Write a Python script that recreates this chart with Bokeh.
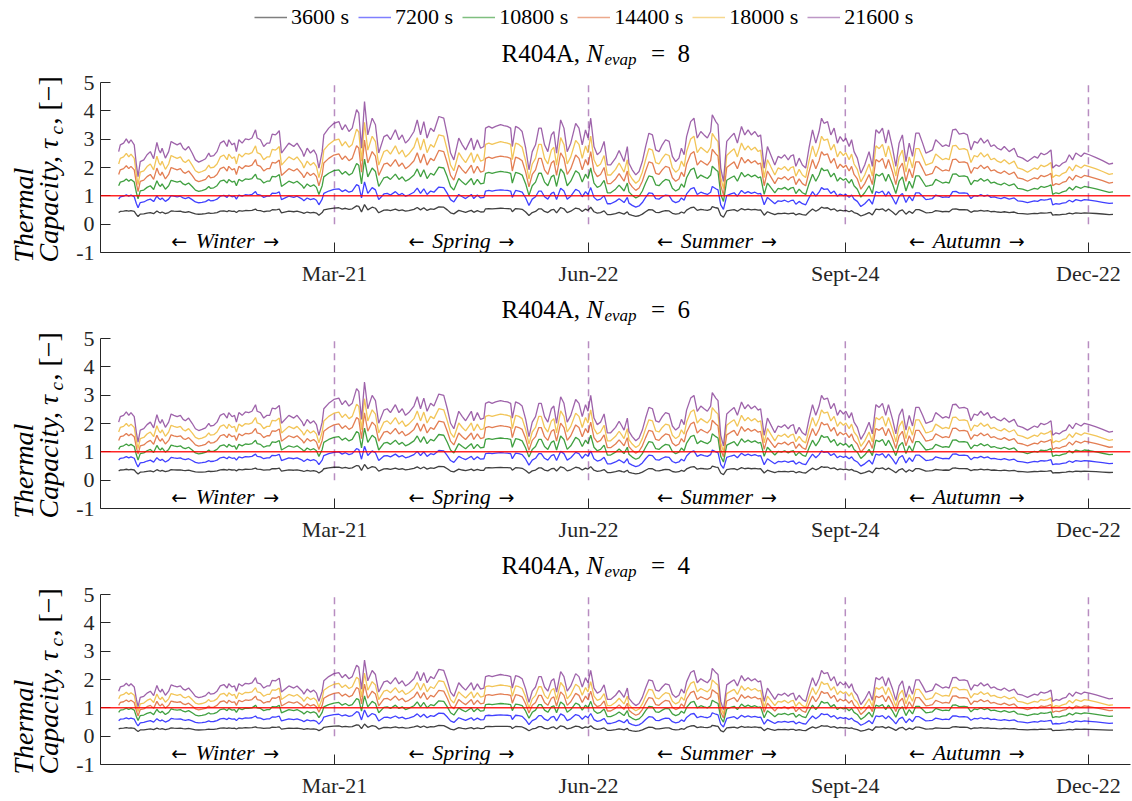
import numpy as np
from bokeh.plotting import figure
from bokeh.models import FixedTicker, Span, Label, Legend, LegendItem, Range1d
from bokeh.layouts import column, row
from bokeh.core.properties import value
from bokeh.embed import file_html
from bokeh.resources import INLINE

FONT = "Liberation Serif"
TXT = "#262626"

# ---------------- data ----------------
durations = ["3600 s", "7200 s", "10800 s", "14400 s", "18000 s", "21600 s"]
colors = ["#000000", "#0000FF", "#008000", "#D95319", "#EDB120", "#7E2F8E"]
# level of each duration line relative to the 21600 s line
series_ratio = [0.16, 0.345, 0.53, 0.685, 0.83, 1.0]
panel_n = [8, 6, 4]
# level of each panel relative to the N_evap = 8 panel
panel_scale = [1.0, 0.80, 0.62]

season_names = ["Winter", "Spring", "Summer", "Autumn"]
season_edges = [0, 80, 173, 267, 356]
tick_days = [80, 173, 267, 356]
tick_labels = ["Mar-21", "Jun-22", "Sept-24", "Dec-22"]

# day of year and thermal capacity of the 21600 s line, N_evap = 8
day = [1.0, 1.6, 2.8, 3.8, 4.7, 5.5, 6.7, 7.5, 8.1, 8.9, 10.2, 11.4, 12.6, 13.8, 15.0,
       15.7, 16.3, 16.9, 18.1, 19.3, 20.2, 21.2, 22.4, 23.6, 24.6, 25.4, 26.6, 27.9, 29.1,
       30.3, 31.5, 32.8, 34.0, 34.6, 35.8, 37.0, 38.2, 39.5, 40.7, 41.3, 42.5, 43.4, 44.1,
       45.0, 46.2, 47.4, 48.6, 49.8, 51.1, 51.7, 52.9, 54.1, 55.3, 56.3, 57.2, 58.4, 59.0,
       59.8, 60.6, 63.3, 65.1, 66.3, 68.2, 68.8, 70.0, 71.2, 72.4, 73.4, 74.3, 75.5, 76.1,
       77.9, 79.8, 81.6, 82.8, 84.0, 85.3, 86.5, 88.1, 88.9, 89.9, 91.0, 92.2, 93.8, 95.0,
       96.2, 98.1, 99.3, 100.5, 102.3, 103.6, 104.8, 106.0, 107.2, 109.1, 110.3, 111.5,
       112.7, 113.9, 115.2, 116.4, 118.2, 120.0, 121.3, 122.5, 123.7, 125.5, 126.8, 128.0,
       129.2, 130.1, 131.0, 132.3, 133.5, 134.7, 135.3, 136.5, 137.7, 139.0, 140.8, 142.0,
       143.3, 144.5, 145.1, 146.3, 147.5, 148.7, 150.0, 151.2, 152.4, 153.6, 154.8, 155.7,
       156.9, 158.1, 159.4, 160.3, 161.3, 162.8, 164.0, 165.2, 166.5, 168.3, 169.5, 170.7,
       171.9, 172.8, 173.8, 175.0, 176.2, 177.4, 178.7, 179.9, 181.1, 182.9, 184.2, 185.2,
       186.0, 187.2, 187.8, 189.0, 190.3, 191.5, 192.7, 193.9, 195.1, 196.4, 197.6, 198.8,
       200.0, 201.2, 202.5, 203.7, 204.9, 206.1, 207.0, 208.0, 208.9, 210.4, 211.6, 212.8,
       214.1, 215.3, 216.5, 217.7, 218.3, 219.6, 220.4, 221.4, 222.4, 223.6, 225.1, 226.3,
       227.5, 229.0, 230.2, 231.4, 232.6, 233.9, 235.1, 236.0, 237.3, 238.5, 239.7, 241.2,
       242.4, 243.6, 244.8, 246.1, 247.0, 248.0, 248.9, 250.1, 251.3, 252.5, 253.7, 255.0,
       256.2, 257.4, 258.3, 259.2, 260.5, 261.7, 262.9, 264.1, 265.1, 266.3, 267.2, 268.4,
       269.3, 270.2, 271.4, 272.7, 274.1, 275.7, 276.9, 278.2, 279.4, 280.6, 281.8, 282.8,
       284.3, 285.5, 286.7, 287.9, 289.2, 290.4, 291.6, 292.8, 294.0, 295.3, 296.5, 297.7,
       298.9, 300.1, 301.4, 302.6, 303.8, 305.0, 306.3, 307.5, 308.7, 310.5, 311.7, 313.0,
       314.2, 315.4, 316.6, 317.8, 319.1, 320.3, 321.5, 322.7, 324.0, 325.2, 327.0, 328.8,
       330.1, 331.9, 333.7, 336.2, 337.4, 338.6, 339.8, 341.0, 342.3, 342.9, 344.1, 345.3,
       346.5, 347.8, 349.0, 350.2, 351.4, 353.3, 354.5, 356.3, 358.8, 361.2, 363.6, 365.0]
tau_21600_n8 = [2.56, 2.80, 2.86, 3.01, 2.86, 2.98, 2.80, 2.09, 1.68, 2.21, 2.27, 2.45, 2.56,
                2.31, 2.89, 2.62, 2.51, 2.68, 2.33, 2.56, 2.92, 2.86, 2.80, 2.86, 2.68, 2.62,
                2.74, 2.51, 2.27, 2.19, 2.24, 2.31, 2.51, 2.39, 2.42, 2.56, 2.86, 2.94, 2.74,
                2.98, 2.80, 2.86, 2.56, 2.98, 2.86, 3.01, 2.98, 3.04, 3.33, 3.04, 2.98, 2.74,
                2.86, 2.86, 3.18, 3.15, 3.21, 3.30, 2.51, 2.86, 2.74, 2.86, 2.56, 2.39, 2.68,
                2.51, 2.62, 2.45, 1.98, 2.56, 3.15, 3.39, 3.56, 3.62, 3.33, 3.51, 3.27, 3.39,
                4.04, 3.92, 2.68, 4.33, 3.15, 3.74, 3.51, 2.51, 3.09, 3.15, 2.98, 3.33, 2.98,
                3.15, 2.86, 2.98, 3.27, 3.68, 3.15, 3.62, 3.04, 3.39, 3.27, 3.80, 3.74, 3.15,
                2.51, 2.27, 3.04, 2.80, 2.62, 2.86, 3.04, 2.62, 2.98, 2.68, 2.74, 3.39, 3.45,
                3.39, 3.45, 3.51, 3.48, 3.45, 3.39, 2.74, 3.45, 3.39, 3.27, 2.68, 1.92, 2.56,
                2.80, 3.39, 3.39, 2.80, 2.56, 3.15, 3.27, 2.51, 3.68, 3.39, 2.56, 2.86, 3.56,
                3.39, 2.80, 3.33, 3.04, 3.74, 2.74, 2.45, 2.56, 2.92, 2.09, 2.09, 2.33, 2.60,
                2.39, 2.21, 2.74, 2.15, 1.92, 1.74, 1.86, 2.21, 2.74, 3.21, 3.15, 2.62, 2.56,
                2.80, 2.98, 2.92, 2.39, 2.21, 2.33, 2.68, 2.45, 3.09, 3.62, 3.74, 3.04, 3.27,
                3.15, 3.04, 3.27, 3.86, 3.62, 3.51, 1.98, 1.51, 2.92, 3.09, 3.21, 2.86, 3.45,
                3.15, 3.33, 3.15, 3.27, 3.09, 3.15, 1.98, 2.74, 2.45, 2.09, 2.39, 2.33, 2.45,
                2.27, 2.40, 2.45, 2.04, 2.33, 2.09, 1.98, 2.68, 3.33, 2.86, 3.27, 3.74, 3.56,
                3.62, 3.15, 3.39, 2.86, 3.09, 2.92, 3.04, 2.74, 2.98, 2.56, 2.33, 1.80, 2.09,
                2.56, 2.04, 3.33, 3.21, 3.39, 2.86, 3.33, 2.68, 2.04, 2.86, 3.15, 2.21, 2.86,
                2.39, 3.21, 3.21, 2.86, 2.51, 2.56, 2.62, 2.98, 2.86, 2.74, 2.80, 2.74, 3.33,
                3.35, 3.18, 3.21, 3.15, 2.62, 2.92, 2.86, 3.04, 2.86, 2.98, 2.74, 2.80, 2.68,
                2.62, 2.74, 2.56, 2.68, 2.39, 2.33, 2.21, 2.39, 2.33, 2.51, 2.45, 2.51, 2.62,
                1.98, 2.09, 2.04, 2.15, 2.21, 2.45, 2.27, 2.51, 2.39, 2.51, 2.45, 2.35, 2.24,
                2.12, 2.15]

# ---------------- layout (page has no margin: canvas starts at 0,0) ----------------
TOTAL_H = 800
YLAB_W = 72
RIGHT_W = 1132 - YLAB_W
MAIN_LEFT = 28
H = 170
TOP = 13
bottoms = [38, 38, 36]
title_heights = [69, 35, 35]
x_range = Range1d(-5.65, 371.4)
MID = 0.33  # distance (em) from the alphabetic baseline up to the text middle

season_mid = [(season_edges[i] + season_edges[i + 1]) / 2 for i in range(4)]
# half-widths (px) of the season words in 22px italic serif, for arrow placement
season_half = [31, 30, 37, 35]


def blank(w, h):
    f = figure(width=w, height=h, x_range=Range1d(0, w), y_range=Range1d(0, h),
               output_backend="svg", toolbar_location=None, min_border=0,
               x_axis_location=None, y_axis_location=None)
    f.outline_line_color = None
    f.grid.visible = False
    return f


def lab(f, x, y, text, size, italic=False, angle=0.0):
    """x, y: start of the text on its baseline (screen px from frame bottom-left)."""
    s = float(size.replace("px", ""))
    if angle:
        x = x - MID * s
    else:
        y = y + MID * s
    f.add_layout(Label(x=x, y=y, x_units="screen", y_units="screen", text=text,
                       angle=angle, text_font=FONT, text_font_size=size,
                       text_font_style="italic" if italic else "normal",
                       text_color="#000000", text_align="left",
                       text_baseline="middle"))


right_blocks = []
frame_bottoms = []
cursor = 0
for i in range(3):
    # ---- title strip (legend too for the first panel); frame aligned at x=100 ----
    tf = blank(RIGHT_W, title_heights[i])
    tx, ty = 401, 8
    lab(tf, tx, ty, "R404A, ", "25px")
    lab(tf, tx + 85, ty, "N", "25px", italic=True)
    lab(tf, tx + 103, ty - 4, "evap", "17px", italic=True)
    lab(tf, tx + 137, ty, "\u2002=\u2002" + str(panel_n[i]), "25px")
    if i == 0:
        items = []
        for k in range(6):
            r = tf.line(x=[-100, -90], y=[-100, -100], line_color=colors[k],
                        line_alpha=0.5, line_width=1.6)
            items.append(LegendItem(label=durations[k], renderers=[r]))
        lg = Legend(items=items, orientation="horizontal", location=(154, 39),
                    label_text_font=FONT, label_text_font_size="22px",
                    label_text_color="#000000", glyph_width=33, glyph_height=20,
                    label_height=22, label_standoff=4, spacing=9, padding=2, margin=0,
                    border_line_color=None, background_fill_alpha=0)
        tf.add_layout(lg)
    right_blocks.append(tf)
    cursor += title_heights[i]

    # ---- main panel ----
    fh = TOP + H + bottoms[i]
    p = figure(width=RIGHT_W, height=fh, x_range=x_range, y_range=Range1d(-1, 5),
               output_backend="svg", toolbar_location=None,
               min_border_left=MAIN_LEFT, min_border_right=2,
               min_border_top=TOP, min_border_bottom=bottoms[i])
    p.outline_line_color = None
    p.grid.visible = False

    p.xaxis.ticker = FixedTicker(ticks=tick_days)
    p.xaxis.major_label_overrides = {d: l for d, l in zip(tick_days, tick_labels)}
    p.yaxis.ticker = FixedTicker(ticks=[-1, 0, 1, 2, 3, 4, 5])
    p.yaxis.major_label_overrides = {-1: "-1"}
    for ax in (p.xaxis[0], p.yaxis[0]):
        ax.major_tick_in = 10
        ax.major_tick_out = 0
        ax.minor_tick_line_color = None
        ax.axis_line_color = TXT
        ax.major_tick_line_color = TXT
        ax.major_label_text_font = FONT
        ax.major_label_text_font_size = "22px"
        ax.major_label_text_color = TXT
    p.xaxis.major_label_standoff = 8
    p.yaxis.major_label_standoff = 6

    p.segment(x0=tick_days, y0=[0] * 4, x1=tick_days, y1=[5] * 4,
              line_color="#7E2F8E", line_alpha=0.55, line_width=1.5, line_dash="7 5")

    base = np.array(tau_21600_n8) * panel_scale[i]
    for k in range(6):
        p.line(day, base * series_ratio[k], line_color=colors[k], line_width=1.3,
               line_alpha=0.75)

    p.add_layout(Span(location=1, dimension="width", line_color="#FF0000",
                      line_width=1.5, line_alpha=0.85))

    sy = [-0.58] * 4
    p.text(x=season_mid, y=sy, text=season_names, text_font=value(FONT),
           text_font_style="italic", text_font_size="22px", text_align="center",
           text_baseline="middle", text_color="#000000")
    p.text(x=season_mid, y=sy, text=["\u2190"] * 4, x_offset=[-(h + 7) for h in season_half],
           text_font=value("DejaVu Sans"), text_font_size="19px", text_align="right",
           text_baseline="middle", text_color="#000000")
    p.text(x=season_mid, y=sy, text=["\u2192"] * 4, x_offset=[h + 7 for h in season_half],
           text_font=value("DejaVu Sans"), text_font_size="19px", text_align="left",
           text_baseline="middle", text_color="#000000")
    right_blocks.append(p)
    cursor += fh
    frame_bottoms.append(cursor - bottoms[i])

# ---- y label strip, one tall figure on the left ----
yf = blank(YLAB_W, TOTAL_H)
for i in range(3):
    y0 = TOTAL_H - (frame_bottoms[i] + 10)
    lab(yf, 32, y0, "Thermal", "28px", italic=True, angle=np.pi / 2)
    lab(yf, 57, y0, "Capacity, \u03c4", "28px", italic=True, angle=np.pi / 2)
    lab(yf, 62, y0 + 128, "c", "19px", italic=True, angle=np.pi / 2)
    lab(yf, 57, y0 + 138, ", [\u2212]", "28px", angle=np.pi / 2)

layout = row(yf, column(*right_blocks))
open("out.html", "w").write(file_html(layout, INLINE))
